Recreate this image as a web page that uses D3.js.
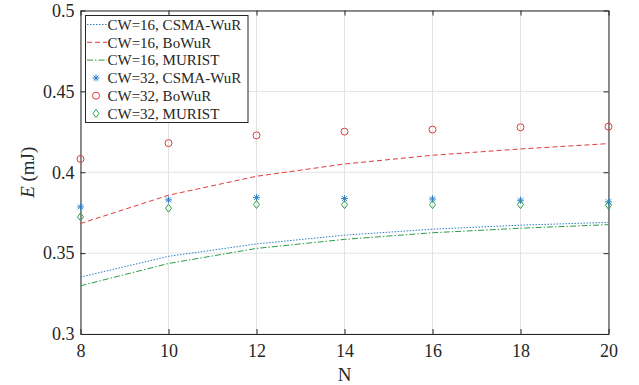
<!DOCTYPE html>
<html><head><meta charset="utf-8">
<script src="https://cdn.jsdelivr.net/npm/d3@7"></script>
<style>body{margin:0;background:#fff}svg{display:block}</style>
</head><body><svg id="c" width="639" height="385"></svg>
<script>
const N = [8, 10, 12, 14, 16, 18, 20];
const cw16_csma = [0.3352, 0.3480, 0.3557, 0.3611, 0.3648, 0.3673, 0.3690];
const cw16_bowur = [0.3683, 0.3858, 0.3975, 0.4051, 0.4105, 0.4144, 0.4177];
const cw16_murist = [0.3298, 0.3436, 0.3529, 0.3585, 0.3626, 0.3654, 0.3676];
const cw32_csma = [0.3786, 0.3829, 0.3843, 0.3837, 0.3835, 0.3827, 0.3817];
const cw32_bowur = [0.4082, 0.4180, 0.4228, 0.4251, 0.4264, 0.4278, 0.4282];
const cw32_murist = [0.3724, 0.3778, 0.3801, 0.3800, 0.3800, 0.3800, 0.3796];
const xTicks = [8, 10, 12, 14, 16, 18, 20];
const yTicks = [0.3, 0.35, 0.4, 0.45, 0.5];
const legendLabels = ["CW=16, CSMA-WuR","CW=16, BoWuR","CW=16, MURIST","CW=32, CSMA-WuR","CW=32, BoWuR","CW=32, MURIST"];

const BLUE = "#2f7fc6", RED = "#e23b3b", GREEN = "#2a9e48", AX = "#262626";
const L = 80.5, R = 608.5, T = 10.5, B = 334;
const svg = d3.select("#c");
const x = d3.scaleLinear().domain([8, 20]).range([L, R]);
const y = d3.scaleLinear().domain([0.3, 0.5]).range([B, T]);
const font = "'Liberation Serif', 'DejaVu Serif', serif";

// grid
svg.append("g").selectAll("line").data(xTicks).join("line")
  .attr("x1", d => x(d)).attr("x2", d => x(d)).attr("y1", T).attr("y2", B)
  .attr("stroke", "#e3e3e3").attr("stroke-width", 1);
svg.append("g").selectAll("line").data(yTicks).join("line")
  .attr("x1", L).attr("x2", R).attr("y1", d => y(d)).attr("y2", d => y(d))
  .attr("stroke", "#e3e3e3").attr("stroke-width", 1);

// axes (inward ticks)
const xa = svg.append("g").attr("transform", `translate(0,${B})`)
  .call(d3.axisBottom(x).tickValues(xTicks).tickSizeInner(-5).tickSizeOuter(0).tickPadding(10).tickFormat(d3.format("d")));
const xt = svg.append("g").attr("transform", `translate(0,${T})`)
  .call(d3.axisTop(x).tickValues(xTicks).tickSizeInner(-5).tickSizeOuter(0).tickFormat(""));
const ya = svg.append("g").attr("transform", `translate(${L},0)`)
  .call(d3.axisLeft(y).tickValues(yTicks).tickSizeInner(-5).tickSizeOuter(0).tickPadding(6).tickFormat(d => d3.format("")(+d.toFixed(2))));
const yr = svg.append("g").attr("transform", `translate(${R},0)`)
  .call(d3.axisRight(y).tickValues(yTicks).tickSizeInner(-5).tickSizeOuter(0).tickFormat(""));
[xa, xt, ya, yr].forEach(g => {
  g.selectAll("path").attr("stroke", AX);
  g.selectAll("line").attr("stroke", AX);
  g.selectAll("text").attr("fill", AX).style("font-family", font).style("font-size", "18px");
});

// axis labels
svg.append("text").attr("x", (L + R) / 2).attr("y", 381).attr("text-anchor", "middle")
  .style("font-family", font).style("font-size", "19px").attr("fill", AX).text("N");
const yl = svg.append("text").attr("transform", `translate(34,${(T + B) / 2}) rotate(-90)`)
  .attr("text-anchor", "middle").style("font-family", font).style("font-size", "19px").attr("fill", AX);
yl.append("tspan").style("font-style", "italic").text("E");
yl.append("tspan").text(" (mJ)");

// lines
const line = d3.line().x((d, i) => x(N[i])).y(d => y(d));
const lineSeries = [
  {v: cw16_csma, c: BLUE, dash: "1.5,1.5"},
  {v: cw16_bowur, c: RED, dash: "5,3"},
  {v: cw16_murist, c: GREEN, dash: "6,2,1.5,2"}
];
lineSeries.forEach(s => {
  svg.append("path").datum(s.v).attr("d", line).attr("fill", "none")
    .attr("stroke", s.c).attr("stroke-width", 1).attr("stroke-dasharray", s.dash);
});

// markers
const star = "M-3.5,0H3.5M0,-3.5V3.5M-2.5,-2.5L2.5,2.5M-2.5,2.5L2.5,-2.5";
const diamond = "M0,-4L3,0L0,4L-3,0Z";
function drawMarker(g, type, color) {
  if (type === "star") g.append("path").attr("d", star).attr("stroke", color).attr("stroke-width", 1).attr("fill", "none");
  else if (type === "circle") g.append("circle").attr("r", 3.5).attr("stroke", color).attr("stroke-width", 1).attr("fill", "none");
  else g.append("path").attr("d", diamond).attr("stroke", color).attr("stroke-width", 1).attr("fill", "none");
}
const markerSeries = [
  {v: cw32_csma, c: BLUE, t: "star"},
  {v: cw32_bowur, c: RED, t: "circle"},
  {v: cw32_murist, c: GREEN, t: "diamond"}
];
markerSeries.forEach(s => {
  s.v.forEach((d, i) => {
    const g = svg.append("g").attr("transform", `translate(${x(N[i])},${y(d)})`);
    drawMarker(g, s.t, s.c);
  });
});

// legend
const lg = svg.append("g");
lg.append("rect").attr("x", 85.5).attr("y", 15.5).attr("width", 162.5).attr("height", 107)
  .attr("fill", "#fff").attr("stroke", AX).attr("stroke-width", 1);
const items = [
  {kind: "line", ...lineSeries[0]}, {kind: "line", ...lineSeries[1]}, {kind: "line", ...lineSeries[2]},
  {kind: "mark", ...markerSeries[0]}, {kind: "mark", ...markerSeries[1]}, {kind: "mark", ...markerSeries[2]}
];
items.forEach((it, i) => {
  const cy = 24.5 + i * 17.8;
  if (it.kind === "line") {
    lg.append("line").attr("x1", 87).attr("x2", 107).attr("y1", cy).attr("y2", cy)
      .attr("stroke", it.c).attr("stroke-width", 1).attr("stroke-dasharray", it.dash);
  } else {
    const g = lg.append("g").attr("transform", `translate(96,${cy})`);
    drawMarker(g, it.t, it.c);
  }
  lg.append("text").attr("x", 107.5).attr("y", cy).attr("dy", "0.35em")
    .style("font-family", font).style("font-size", "15px").attr("fill", AX).text(legendLabels[i]);
});
</script></body></html>
